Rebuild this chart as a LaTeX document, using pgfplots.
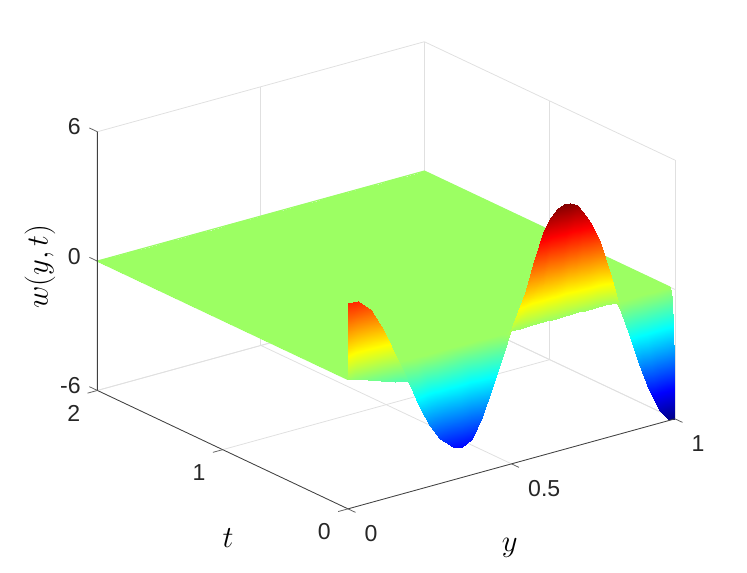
\RequirePackage{fix-cm}
\documentclass[border=0pt]{standalone}
\usepackage{fontspec}
\setmainfont{Liberation Sans}
\usepackage{pgfplots}
\pgfplotsset{compat=1.18}
\definecolor{plane}{RGB}{154,255,101}
\pgfplotsset{tk/.style={black!60, line width=0.6pt, no marks}}

\begin{document}
\begin{tikzpicture}
\path[use as bounding box] (-261pt,-145.125pt) rectangle (299.25pt,284.625pt);
\begin{axis}[
    at={(0,0)}, anchor=origin,
    x={(245.25pt,67.5pt)}, y={(-93.98pt,44.4pt)}, z={(0pt,16.17pt)},
    xmin=0, xmax=1, ymin=0, ymax=2, zmin=-6, zmax=6,
    xtick={0,0.5,1}, ytick={0,1,2}, ztick={-6,0,6},
    xticklabels={0,0.5,1}, yticklabels={0,1,2}, zticklabels={-6,0,6},
    tick label style={font=\fontsize{17.3}{20}\selectfont, text=black!85},
    xticklabel style={anchor=west, xshift=9pt, yshift=-18.75pt},
    yticklabel style={xshift=-10.15pt, yshift=-7.15pt},
    zticklabel style={xshift=-9pt, yshift=3pt},
    tick style={draw=none},
    grid=major, grid style={black!12, line width=0.6pt},
    axis line style={draw=none},
    colormap/jet, point meta min=-6.05, point meta max=5.4,
    clip=false,
]
% outline of the flat part, smooths the edge of the shading
\addplot3[plane, line width=0.9pt, no marks] coordinates {(0,.004,0) (0,2,0) (1,2,0) (1,.04,0)};
\addplot3[surf, shader=interp, z buffer=none, mesh/ordering=x varies, mesh/cols=35] coordinates {
% t = 2
(1,2,0)(.98,2,0)(.95,2,0)(.92,2,0)(.89,2,0)(.86,2,0)(.83,2,0)(.80,2,0)(.77,2,0)(.74,2,0)(.72,2,0)(.70,2,0)(.68,2,0)(.66,2,0)(.64,2,0)(.62,2,0)(.60,2,0)(.57,2,0)(.54,2,0)(.50,2,0)(.47,2,0)(.44,2,0)(.41,2,0)(.38,2,0)(.35,2,0)(.32,2,0)(.28,2,0)(.25,2,0)(.22,2,0)(.19,2,0)(.15,2,0)(.11,2,0)(.07,2,0)(.03,2,0)(0,2,0)

% t = 0.04
(1,.04,0)(.98,.04,0)(.95,.04,0)(.92,.04,0)(.89,.04,0)(.86,.04,0)(.83,.04,0)(.80,.04,0)(.77,.04,0)(.74,.04,0)(.72,.04,0)(.70,.04,0)(.68,.04,0)(.66,.04,0)(.64,.04,0)(.62,.04,0)(.60,.04,0)(.57,.04,0)(.54,.04,0)(.50,.04,0)(.47,.04,0)(.44,.04,0)(.41,.04,0)(.38,.04,0)(.35,.04,0)(.32,.04,0)(.28,.04,0)(.25,.04,0)(.22,.04,0)(.19,.04,0)(.15,.04,0)(.11,.04,0)(.07,.04,0)(.03,.04,0)(0,.004,0)

% t = 0.027
(1,.027,-.48)(.98,.027,-.47)(.95,.027,-.43)(.92,.027,-.35)(.89,.027,-.24)(.86,.027,-.12)(.83,.027,0)(.80,.027,.13)(.77,.027,.25)(.74,.027,.34)(.72,.027,.38)(.70,.027,.41)(.68,.027,.43)(.66,.027,.43)(.64,.027,.42)(.62,.027,.40)(.60,.027,.35)(.57,.027,.25)(.54,.027,.14)(.50,.027,.02)(.47,.027,-.08)(.44,.027,-.18)(.41,.027,-.28)(.38,.027,-.35)(.35,.027,-.37)(.32,.027,-.36)(.28,.027,-.32)(.25,.027,-.26)(.22,.027,-.18)(.19,.015,-.85)(.15,.02,-.8)(.11,.02,-.58)(.07,.02,-.37)(.03,.02,-.15)(0,.003,.3)

% t = 0.018
(1,.018,-1.87)(.98,.018,-1.84)(.95,.018,-1.66)(.92,.018,-1.35)(.89,.018,-.93)(.86,.018,-.47)(.83,.018,0)(.80,.018,.50)(.77,.018,.98)(.74,.018,1.31)(.72,.018,1.48)(.70,.018,1.60)(.68,.018,1.66)(.66,.018,1.67)(.64,.018,1.63)(.62,.018,1.53)(.60,.018,1.37)(.57,.018,.96)(.54,.018,.54)(.50,.018,.06)(.47,.018,-.30)(.44,.018,-.70)(.41,.018,-1.07)(.38,.018,-1.35)(.35,.018,-1.42)(.32,.018,-1.39)(.28,.018,-1.22)(.25,.018,-.99)(.22,.018,-.69)(.19,.01,-.9)(.15,.012,-.35)(.11,.012,.1)(.07,.012,.5)(.03,.012,.8)(0,.002,1.2)

% t = 0.01
(1,.01,-3.32)(.98,.01,-3.26)(.95,.01,-2.95)(.92,.01,-2.39)(.89,.01,-1.65)(.86,.01,-.83)(.83,.01,0)(.80,.01,.89)(.77,.01,1.73)(.74,.01,2.33)(.72,.01,2.63)(.70,.01,2.83)(.68,.01,2.95)(.66,.01,2.96)(.64,.01,2.89)(.62,.01,2.72)(.60,.01,2.43)(.57,.01,1.71)(.54,.01,.96)(.50,.01,.11)(.47,.01,-.54)(.44,.01,-1.24)(.41,.01,-1.90)(.38,.01,-2.39)(.35,.01,-2.52)(.32,.01,-2.46)(.28,.01,-2.17)(.25,.01,-1.76)(.22,.01,-1.23)(.19,.005,-.95)(.15,.006,0)(.11,.006,.9)(.07,.006,1.6)(.03,.006,2.0)(0,.001,2.4)

% t = 0
(1,0,-6.04)(.98,0,-5.92)(.95,0,-5.37)(.92,0,-4.35)(.89,0,-3.0)(.86,0,-1.5)(.83,0,0)(.80,0,1.62)(.77,0,3.15)(.74,0,4.23)(.72,0,4.78)(.70,0,5.15)(.68,0,5.37)(.66,0,5.39)(.64,0,5.25)(.62,0,4.95)(.60,0,4.42)(.57,0,3.1)(.54,0,1.75)(.50,0,.2)(.47,0,-.98)(.44,0,-2.25)(.41,0,-3.45)(.38,0,-4.35)(.35,0,-4.58)(.32,0,-4.48)(.28,0,-3.95)(.25,0,-3.2)(.22,0,-2.24)(.19,0,-1.0)(.15,0,.32)(.11,0,1.78)(.07,0,2.92)(.03,0,3.52)(0,0,3.53)
};
% front box edges
\addplot3[black!75, line width=0.6pt, no marks] coordinates {(0,2,6) (0,2,-6) (0,0,-6) (1,0,-6)};
% outward ticks, only on the three front edges
\addplot3[tk] coordinates {(0,0,-6) (0,-.06,-6)};
\addplot3[tk] coordinates {(.5,0,-6) (.5,-.06,-6)};
\addplot3[tk] coordinates {(1,0,-6) (1,-.06,-6)};
\addplot3[tk] coordinates {(0,0,-6) (-.03,0,-6)};
\addplot3[tk] coordinates {(0,1,-6) (-.03,1,-6)};
\addplot3[tk] coordinates {(0,2,-6) (-.03,2,-6)};
\addplot3[tk] coordinates {(0,2,-6) (0,2.064,-6)};
\addplot3[tk] coordinates {(0,2,0) (0,2.064,0)};
\addplot3[tk] coordinates {(0,2,6) (0,2.064,6)};
\node[font=\fontsize{23}{28}\selectfont] at (axis cs:.495,0,-9.88) {$y$};
\node[font=\fontsize{23}{28}\selectfont] at (axis cs:-.367,0,-5.81) {$t$};
\node[font=\fontsize{23}{28}\selectfont, rotate=90] at (axis cs:-.942,0,9.16) {$w(y,t)$};
\end{axis}
\end{tikzpicture}
\end{document}
